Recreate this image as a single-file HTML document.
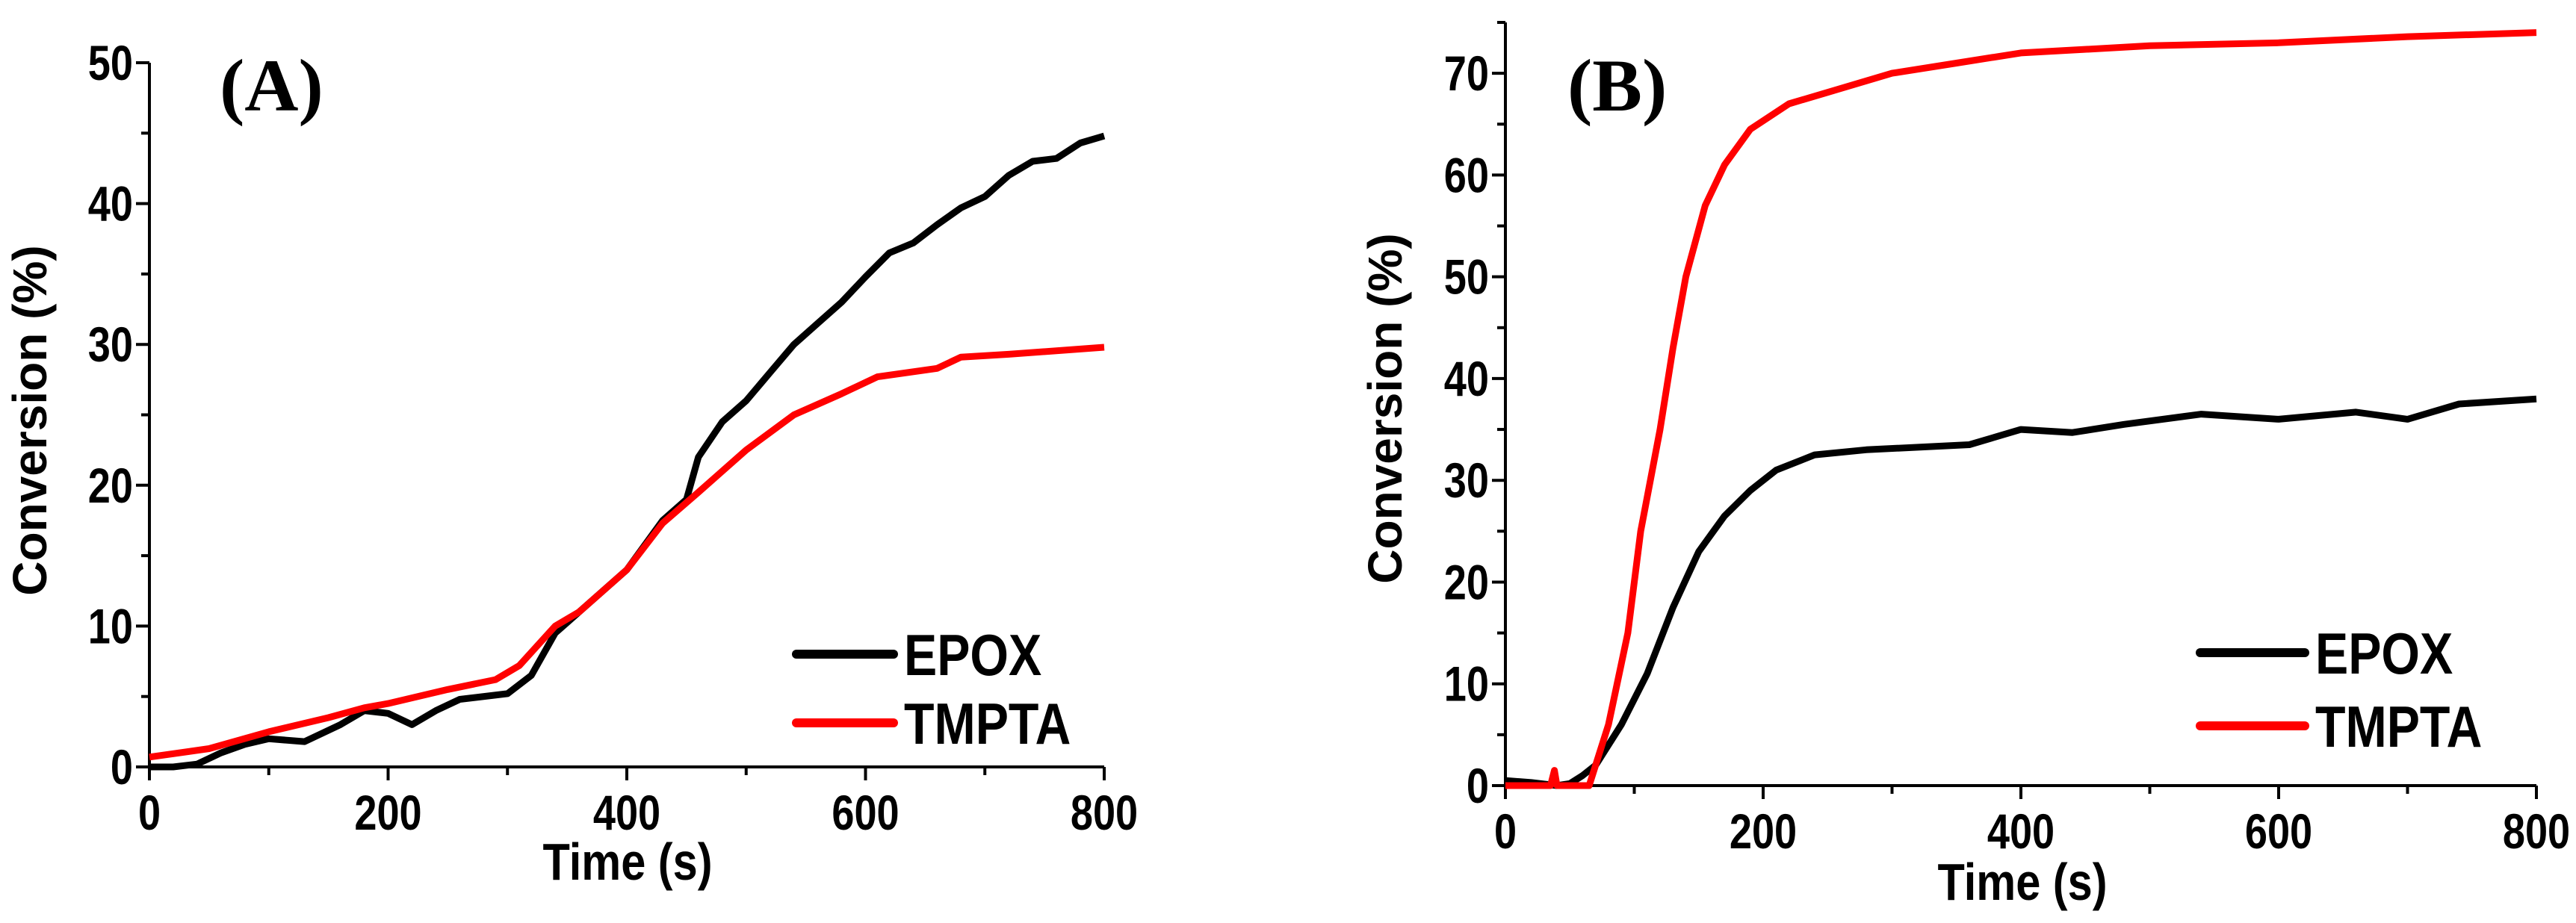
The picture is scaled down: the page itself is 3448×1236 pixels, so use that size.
<!DOCTYPE html>
<html><head><meta charset="utf-8"><style>
html,body{margin:0;padding:0;background:#fff;}
svg{display:block;}
text{font-family:"Liberation Sans",Arial,sans-serif;font-weight:bold;fill:#000;}
.ttl{font-family:"Liberation Serif",serif;font-weight:bold;}
</style></head><body>
<svg id="fig" width="3448" height="1236" viewBox="0 0 3448 1236" xmlns="http://www.w3.org/2000/svg"></svg>
<script>
const aEpoxT=[0,20,40,60,80,100,130,160,180,200,220,240,260,300,320,340,360,400,430,450,460,480,500,520,540,560,580,600,620,640,660,680,700,720,740,760,780,800];
const aEpoxV=[0,0,0.2,1,1.6,2,1.8,3,4,3.8,3,4,4.8,5.2,6.5,9.5,11,14,17.5,19,22,24.5,26,28,30,31.5,33,34.8,36.5,37.2,38.5,39.7,40.5,42,43,43.2,44.3,44.8];
const aTmT=[0,50,100,150,180,200,250,290,310,340,360,400,430,460,500,540,580,610,660,680,720,800];
const aTmV=[0.7,1.3,2.5,3.5,4.2,4.5,5.5,6.2,7.2,10,11,14,17.3,19.5,22.5,25,26.5,27.7,28.3,29.1,29.3,29.8];
const bEpoxT=[0,20,40,50,60,70,90,110,130,150,170,190,210,240,280,360,400,440,480,540,600,660,700,740,800];
const bEpoxV=[0.5,0.3,0,0.2,1,2,6,11,17.5,23,26.5,29,31,32.5,33,33.5,35,34.7,35.5,36.5,36,36.7,36,37.5,38];
const bTmT=[0,35,38,40,65,80,95,105,120,130,140,155,170,190,220,260,300,350,400,500,600,700,800];
const bTmV=[0,0,1.5,0,0,6,15,25,35,43,50,57,61,64.5,67,68.5,70,71,72,72.7,73,73.6,74];
const xTicks=[0,200,400,600,800];
const aYTicks=[0,10,20,30,40,50];
const bYTicks=[0,10,20,30,40,50,60,70];

const svg=document.getElementById('fig');
const NS='http://www.w3.org/2000/svg';
function mk(tag,attrs,parent){const e=document.createElementNS(NS,tag);for(const k in attrs)e.setAttribute(k,attrs[k]);(parent||svg).appendChild(e);return e;}
function ctext(parent,x,y,size,anchor,sxf,str){
  const t=mk('text',{x:0,y:0,'font-size':size,'text-anchor':anchor,transform:`translate(${x},${y}) scale(${sxf},1)`},parent);
  t.textContent=str;return t;
}

function panel(p){
  const g=mk('g',{});
  
  
  const sx=v=>p.x0+v/800*(p.x1-p.x0);
  const Y=v=>p.y0-v/p.ymaxScale*(p.y0-p.yTop);
  const ax=mk('path',{d:`M${p.x0},${Y(p.ymaxScale)} L${p.x0},${p.y0} L${p.x1},${p.y0}`,fill:'none',stroke:'#000','stroke-width':4},g);
  
  
  for(let v=0;v<=800;v+=100){
    const t=mk('line',{x1:sx(v),x2:sx(v),y1:p.y0,y2:p.y0+(v%200===0?18:11),stroke:'#000','stroke-width':4},g);
    
    
  }
  xTicks.forEach(v=>{
    const t=ctext(g,sx(v),p.y0+84,66,'middle',0.82,v);
    
    
  });
  for(let v=0;v<=p.ymaxScale;v+=5){
    const t=mk('line',{x1:p.x0,x2:p.x0-(v%10===0?18:11),y1:Y(v),y2:Y(v),stroke:'#000','stroke-width':4},g);
    
    
  }
  p.yTicks.forEach(v=>{
    const t=ctext(g,p.x0-22,Y(v)+23,66,'end',0.82,v);
    
    
  });
  const yt=mk('text',{x:0,y:0,'font-size':64,'text-anchor':'middle',transform:`translate(${p.ytX},${p.ytY}) rotate(-90)`},g);
  yt.textContent='Conversion (%)';
  
  
  const xt=ctext(g,p.xtX,p.xtY,70,'middle',0.85,'Time (s)');
  
  
  const pl=mk('text',{x:p.lblX,y:p.lblY,'font-size':100,class:'ttl'},g);
  pl.textContent=p.label;
  
  
  p.series.forEach(s=>{
    const d=s.t.map((t,i)=>(i?'L':'M')+sx(t).toFixed(1)+','+Y(s.v[i]).toFixed(1)).join(' ');
    const l=mk('path',{d:d,fill:'none',stroke:s.c,'stroke-width':9,'stroke-linejoin':'round'},g);
    
    
  });
  p.series.forEach((s,i)=>{
    const ly=p.legY+i*p.legDy;
    const ll=mk('line',{x1:p.legX,x2:p.legX+p.legW,y1:ly,y2:ly,stroke:s.c,'stroke-width':12,'stroke-linecap':'round'},g);
    
    
    const lt=ctext(g,p.legX+p.legW+14,ly+28,78,'start',0.85,s.n);
    
    
  });
}
panel({name:'panel-a',x0:200,x1:1478,y0:1027,yTop:84,ymaxScale:50,yTicks:aYTicks,
  ytX:62,ytY:563,xtX:840,xtY:1178,lblX:294,lblY:148,label:'(A)',
  legX:1066,legW:130,legY:876,legDy:92,
  series:[{n:'EPOX',c:'#000',t:aEpoxT,v:aEpoxV},{n:'TMPTA',c:'#ff0000',t:aTmT,v:aTmV}]});
panel({name:'panel-b',x0:2015,x1:3395,y0:1052,yTop:30,ymaxScale:75,yTicks:bYTicks,
  ytX:1876,ytY:547,xtX:2707,xtY:1205,lblX:2098,lblY:148,label:'(B)',
  legX:2945,legW:140,legY:874,legDy:98,
  series:[{n:'EPOX',c:'#000',t:bEpoxT,v:bEpoxV},{n:'TMPTA',c:'#ff0000',t:bTmT,v:bTmV}]});
</script>
</body></html>
